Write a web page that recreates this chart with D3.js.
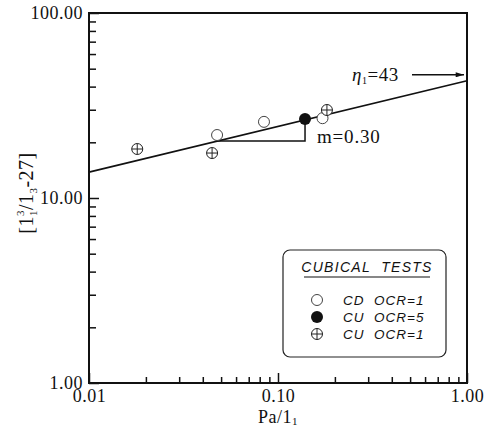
<!DOCTYPE html>
<html>
<head>
<meta charset="utf-8">
<script src="https://cdn.jsdelivr.net/npm/d3@7"></script>
<style>
  body { margin: 0; background: #fff; }
  .tick text { font-family: 'Liberation Serif', 'Times New Roman', serif; font-size: 18px; fill: #111; letter-spacing: 0.5px; }
  .serif { font-family: 'Liberation Serif', 'Times New Roman', serif; fill: #111; }
  .legend text { font-family: 'Liberation Sans', Arial, sans-serif; font-style: italic; fill: #111; }
</style>
</head>
<body>
<svg id="chart"></svg>
<script>
// data
var cdX  = [0.0476, 0.0843, 0.172];     // CD OCR=1 (open circles)
var cdY  = [21.9, 25.8, 27.0];
var cu5X = [0.139];                       // CU OCR=5 (filled)
var cu5Y = [26.7];
var cu1X = [0.018, 0.0448, 0.1815];      // CU OCR=1 (crossed circles)
var cu1Y = [18.4, 17.5, 29.9];
var fitX = [0.01, 1.0];                   // fitted line
var fitY = [13.8, 43];
var triX = [0.047, 0.139];                // slope triangle
var triY = [20.3, 26.6];
var xTicks = [0.01, 0.1, 1];
var xTickLabels = ["0.01", "0.10", "1.00"];
var yTicks = [1, 10, 100];
var yTickLabels = ["1.00", "10.00", "100.00"];
var legendLabels = ["CD  OCR=1", "CU  OCR=5", "CU  OCR=1"];

var svgWidth = 488, svgHeight = 427;
var margin = {top: 13, right: 21, bottom: 44, left: 89};
var w = svgWidth - margin.left - margin.right,
    h = svgHeight - margin.top - margin.bottom;

var svg = d3.select("#chart").attr("width", svgWidth).attr("height", svgHeight);
var g = svg.append("g").attr("transform", "translate(" + margin.left + "," + margin.top + ")");

var x = d3.scaleLog().domain([0.01, 1]).range([0, w]);
var y = d3.scaleLog().domain([1, 100]).range([h, 0]);

// minor ticks (2..9 in each decade)
var minorX = [], minorY = [];
[0.01, 0.1].forEach(function(d){ for (var i = 2; i < 10; i++) minorX.push(d * i); });
[1, 10].forEach(function(d){ for (var i = 2; i < 10; i++) minorY.push(d * i); });

function clean(sel){ sel.select(".domain").remove(); sel.selectAll("line").attr("stroke", "#111").attr("stroke-width", 1.5); }

g.append("g").attr("transform", "translate(0," + h + ")")
  .call(d3.axisBottom(x).tickValues(minorX).tickSize(-6).tickFormat(""))
  .call(clean);
g.append("g").attr("transform", "translate(0," + h + ")")
  .call(d3.axisBottom(x).tickValues(xTicks).tickSize(-10).tickPadding(5)
        .tickFormat(function(d, i){ return xTickLabels[i]; }))
  .call(clean)
  .call(function(s){ s.selectAll("text").attr("dy", "0.8em"); });

g.append("g")
  .call(d3.axisLeft(y).tickValues(minorY).tickSize(-7).tickFormat(""))
  .call(clean);
g.append("g")
  .call(d3.axisLeft(y).tickValues(yTicks).tickSize(-10).tickPadding(6)
        .tickFormat(function(d, i){ return yTickLabels[i]; }))
  .call(clean)
  .call(function(s){ s.selectAll("text").attr("dy", "0.3em"); });

// frame
g.append("rect").attr("width", w).attr("height", h)
  .attr("fill", "none").attr("stroke", "#111").attr("stroke-width", 2);

// axis titles
var xt = g.append("text").attr("class", "serif").attr("x", w / 2).attr("y", h + 40)
  .attr("text-anchor", "middle").style("font-size", "18px").style("letter-spacing", "0.5px");
xt.append("tspan").text("Pa/1");
xt.append("tspan").attr("dy", 2).style("font-size", "11px").text("1");

var yt = svg.append("text").attr("class", "serif")
  .attr("transform", "translate(33," + (margin.top + y(10) - 5) + ") rotate(-90)")
  .attr("text-anchor", "middle").style("font-size", "20px").style("letter-spacing", "0.5px");
yt.append("tspan").text("[1");
yt.append("tspan").attr("dy", 4).style("font-size", "11px").text("1");
yt.append("tspan").attr("dx", -6).attr("dy", -13).style("font-size", "11px").text("3");
yt.append("tspan").attr("dy", 9).text("/1");
yt.append("tspan").attr("dy", 4).style("font-size", "11px").text("3");
yt.append("tspan").attr("dy", -4).text("-27]");

// fitted line
var line = d3.line().x(function(d){ return x(d[0]); }).y(function(d){ return y(d[1]); });
g.append("path").datum(d3.zip(fitX, fitY)).attr("d", line)
  .attr("fill", "none").attr("stroke", "#111").attr("stroke-width", 1.6);

// slope triangle
g.append("polyline")
  .attr("points", [[x(triX[0]), y(triY[0])], [x(triX[1]), y(triY[0])], [x(triX[1]), y(triY[1])]].join(" "))
  .attr("fill", "none").attr("stroke", "#111").attr("stroke-width", 1.5);
g.append("text").attr("class", "serif").attr("x", x(triX[1]) + 12).attr("y", y(triY[0]) + 2)
  .style("font-size", "19px").style("letter-spacing", "0.8px")
  .text("m=0.30");

// eta annotation with arrow
svg.append("defs").append("marker").attr("id", "arrow")
  .attr("viewBox", "0 0 10 6").attr("refX", 10).attr("refY", 3)
  .attr("markerWidth", 11).attr("markerHeight", 5).attr("markerUnits", "userSpaceOnUse")
  .attr("orient", "auto")
  .append("path").attr("d", "M0,0L10,3L0,6Z").attr("fill", "#111");
var ay = y(fitY[1]) - 6;
var eta = g.append("text").attr("class", "serif").attr("x", x(1) - 115).attr("y", ay + 6)
  .style("font-size", "19px").style("letter-spacing", "0.5px");
eta.append("tspan").style("font-style", "italic").text("η");
eta.append("tspan").attr("dy", 3).style("font-size", "10px").text("1");
eta.append("tspan").attr("dy", -3).text("=43");
g.append("line").attr("x1", x(1) - 55).attr("x2", x(1) - 3).attr("y1", ay).attr("y2", ay)
  .attr("stroke", "#111").attr("stroke-width", 1.5).attr("marker-end", "url(#arrow)");

// markers
function openCircle(sel){ sel.append("circle").attr("r", 5.5).attr("fill", "#fff").attr("stroke", "#444").attr("stroke-width", 1); }
function filledCircle(sel){ sel.append("circle").attr("r", 6).attr("fill", "#111"); }
function crossCircle(sel){
  sel.append("circle").attr("r", 5.5).attr("fill", "#fff").attr("stroke", "#222").attr("stroke-width", 1);
  sel.append("path").attr("d", "M-5.5,0H5.5M0,-5.5V5.5").attr("stroke", "#222").attr("stroke-width", 1);
}

g.selectAll(".cd").data(d3.zip(cdX, cdY)).enter().append("g").attr("class", "cd")
  .attr("transform", function(d){ return "translate(" + x(d[0]) + "," + y(d[1]) + ")"; })
  .call(openCircle);
g.selectAll(".cu1").data(d3.zip(cu1X, cu1Y)).enter().append("g").attr("class", "cu1")
  .attr("transform", function(d){ return "translate(" + x(d[0]) + "," + y(d[1]) + ")"; })
  .call(crossCircle);
g.selectAll(".cu5").data(d3.zip(cu5X, cu5Y)).enter().append("g").attr("class", "cu5")
  .attr("transform", function(d){ return "translate(" + x(d[0]) + "," + y(d[1]) + ")"; })
  .call(filledCircle);

// legend
var lg = svg.append("g").attr("class", "legend").attr("transform", "translate(283,250)");
lg.append("rect").attr("width", 163).attr("height", 107).attr("rx", 7)
  .attr("fill", "#fff").attr("stroke", "#222").attr("stroke-width", 1.2);
lg.append("text").attr("x", 84).attr("y", 22).attr("text-anchor", "middle")
  .style("font-size", "14px").style("letter-spacing", "1.3px").attr("xml:space", "preserve")
  .text("CUBICAL  TESTS");
lg.append("line").attr("x1", 21).attr("x2", 147).attr("y1", 27).attr("y2", 27).attr("stroke", "#111").attr("stroke-width", 1.2);
var rows = [openCircle, filledCircle, crossCircle];
rows.forEach(function(fn, i){
  var r = lg.append("g").attr("transform", "translate(34," + (50 + i * 17) + ")");
  fn(r);
  lg.append("text").attr("x", 60).attr("y", 50 + i * 17 + 5).style("font-size", "13.5px")
    .style("letter-spacing", "1px").attr("xml:space", "preserve").text(legendLabels[i]);
});
</script>
</body>
</html>
